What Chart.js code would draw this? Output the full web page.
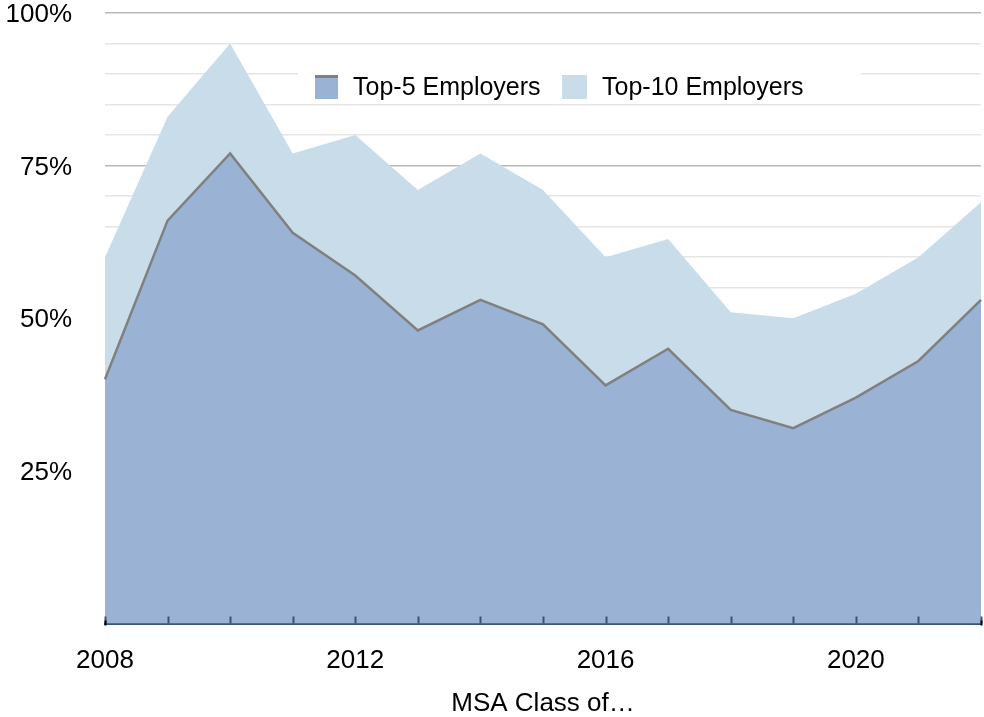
<!DOCTYPE html>
<html>
<head>
<meta charset="utf-8">
<script src="https://cdn.jsdelivr.net/npm/chart.js@4"></script>
<style>
  html, body { margin: 0; padding: 0; background: #fff; }
  #wrap { width: 984px; height: 717px; }
</style>
</head>
<body>
<div id="wrap"><canvas id="chart" width="984" height="717"></canvas></div>
<script>
  const years = ['2008', '2009', '2010', '2011', '2012', '2013', '2014', '2015',
                 '2016', '2017', '2018', '2019', '2020', '2021', '2022'];
  const top5 = [40, 66, 77, 64, 57, 48, 53, 49, 39, 45, 35, 32, 37, 43, 53];
  const top10 = [60, 83, 95, 77, 80, 71, 77, 71, 60, 63, 51, 50, 54, 60, 69];
  const yTickLabels = [25, 50, 75, 100];
  const seriesNames = ['Top-5 Employers', 'Top-10 Employers'];

  const FONT = '"Liberation Sans", Arial, Helvetica, sans-serif';
  const top5Fill = '#9ab3d4';
  const top10Fill = '#c9dcea';
  const lineGrey = '#808080';
  const axisColor = '#3c5373';

  // inward tick marks on the x axis, one per year
  const xTicksPlugin = {
    id: 'xTicks',
    afterDraw(chart) {
      const ctx = chart.ctx;
      const x = chart.scales.x;
      const y0 = chart.chartArea.bottom;
      ctx.save();
      ctx.strokeStyle = axisColor;
      ctx.lineWidth = 2;
      years.forEach((yr, i) => {
        const px = Math.round(x.getPixelForValue(i)) + 0.5;
        ctx.beginPath();
        ctx.moveTo(px, y0 - 7);
        ctx.lineTo(px, y0);
        ctx.stroke();
      });
      ctx.strokeStyle = '#000';
      [0, years.length - 1].forEach(i => {
        const px = Math.round(x.getPixelForValue(i)) + 0.5;
        ctx.beginPath();
        ctx.moveTo(px, y0 - 3);
        ctx.lineTo(px, y0 + 2);
        ctx.stroke();
      });
      ctx.restore();
    }
  };

  // legend sitting on a white box inside the plot
  const legendPlugin = {
    id: 'insideLegend',
    afterDraw(chart) {
      const ctx = chart.ctx;
      ctx.save();
      ctx.fillStyle = '#fff';
      ctx.fillRect(298, 60, 563, 40);
      ctx.font = '25px ' + FONT;
      ctx.textBaseline = 'middle';
      // top-5 swatch with line on top
      ctx.fillStyle = top5Fill;
      ctx.fillRect(315, 75, 23, 24);
      ctx.fillStyle = lineGrey;
      ctx.fillRect(315, 75, 23, 3);
      ctx.fillStyle = '#000';
      ctx.fillText(seriesNames[0], 353, 88);
      ctx.fillStyle = top10Fill;
      ctx.fillRect(562, 75, 25, 24);
      ctx.fillStyle = '#000';
      ctx.fillText(seriesNames[1], 602, 88);
      ctx.restore();
    }
  };

  new Chart(document.getElementById('chart'), {
    type: 'line',
    data: {
      labels: years,
      datasets: [
        {
          label: seriesNames[0],
          data: top5,
          borderColor: lineGrey,
          borderWidth: 2.5,
          backgroundColor: top5Fill,
          fill: 'origin',
          pointRadius: 0,
          tension: 0
        },
        {
          label: seriesNames[1],
          data: top10,
          borderWidth: 0,
          borderColor: 'rgba(0,0,0,0)',
          backgroundColor: top10Fill,
          fill: 'origin',
          pointRadius: 0,
          tension: 0
        }
      ]
    },
    options: {
      responsive: false,
      animation: false,
      devicePixelRatio: 1,
      layout: { padding: { top: 13, right: 3, left: 0, bottom: 0 } },
      plugins: {
        legend: { display: false },
        tooltip: { enabled: false }
      },
      scales: {
        x: {
          offset: false,
          grid: { drawOnChartArea: false, drawTicks: false },
          border: { color: axisColor, width: 2 },
          ticks: {
            autoSkip: false,
            maxRotation: 0,
            padding: 24,
            color: '#000',
            font: { family: FONT, size: 26, lineHeight: 1 },
            callback: (v, i) => (i % 4 === 0 ? years[i] : '')
          },
          title: {
            display: true,
            text: 'MSA Class of…',
            color: '#000',
            font: { family: FONT, size: 26, lineHeight: 1 },
            padding: { top: 0, bottom: 0 }
          },
          afterFit(scale) {
            scale.height = 717 - 623.5;
            scale.paddingLeft = 0;
            scale.paddingRight = 0;
          }
        },
        y: {
          min: 0,
          max: 100,
          z: 1,
          grid: {
            drawTicks: false,
            lineWidth: 1.5,
            color: c => {
              const v = c.tick.value;
              if (v === 0) return 'rgba(0,0,0,0)';
              return v % 25 === 0 ? 'rgba(0,0,0,0.28)' : 'rgba(0,0,0,0.1)';
            }
          },
          border: { display: false },
          ticks: {
            stepSize: 5,
            autoSkip: false,
            padding: 33,
            labelOffset: 2,
            color: '#000',
            font: { family: FONT, size: 26, lineHeight: 1 },
            callback: v => (yTickLabels.includes(v) ? v + '%' : '')
          },
          afterFit(scale) {
            scale.width = 105;
            scale.paddingTop = 0;
            scale.paddingBottom = 0;
          }
        }
      }
    },
    plugins: [xTicksPlugin, legendPlugin]
  });
</script>
</body>
</html>
